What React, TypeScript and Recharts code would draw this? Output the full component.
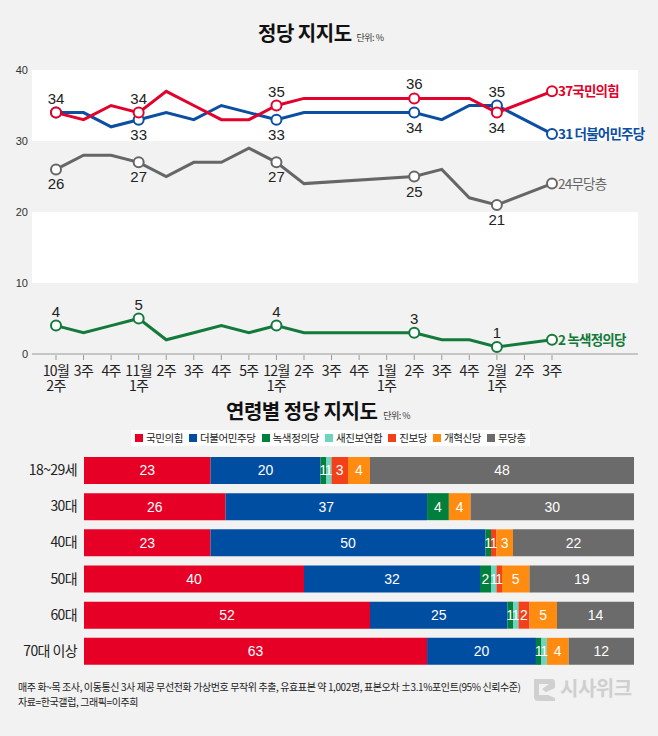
import React from 'react';
import { LineChart, Line, XAxis, YAxis, CartesianGrid, BarChart, Bar, LabelList } from 'recharts';

// 주간 정당 지지도 (한국갤럽)
const weeks = ['10월 2주', '3주', '4주', '11월 1주', '2주', '3주', '4주', '5주', '12월 1주', '2주', '3주', '4주', '1월 1주', '2주', '3주', '4주', '2월 1주', '2주', '3주'];
const ppp = [34, 33, 35, 34, 37, 35, 33, 33, 35, 36, null, null, null, 36, 36, 36, 34, null, 37];
const dpk = [34, 34, 32, 33, 34, 33, 35, 34, 33, 34, null, null, null, 34, 33, 35, 35, null, 31];
const noParty = [26, 28, 28, 27, 25, 27, 27, 29, 27, 24, null, null, null, 25, 26, 22, 21, null, 24];
const greenJustice = [4, 3, 4, 5, 2, 3, 4, 3, 4, 3, null, null, null, 3, 2, 2, 1, null, 2];
const yTicks = [0, 10, 20, 30, 40];

// 연령별
const ages = ['18~29세', '30대', '40대', '50대', '60대', '70대 이상'];
const agePpp = [23, 26, 23, 40, 52, 63];
const ageDpk = [20, 37, 50, 32, 25, 20];
const ageGreen = [1, 4, 1, 2, 1, 1];
const ageNewProg = [1, 0, 0, 1, 1, 1];
const ageProg = [3, 0, 1, 1, 2, 0];
const ageReform = [4, 4, 3, 5, 5, 4];
const ageNone = [48, 30, 22, 19, 14, 12];

const lineData = weeks.map((w, i) => ({
  idx: i,
  week: w,
  ppp: ppp[i],
  dpk: dpk[i],
  none: noParty[i],
  green: greenJustice[i],
}));

const barData = ages.map((a, i) => ({
  age: a,
  ppp: agePpp[i],
  dpk: ageDpk[i],
  green: ageGreen[i],
  newProg: ageNewProg[i],
  prog: ageProg[i],
  reform: ageReform[i],
  none: ageNone[i],
}));

const RED = '#e3002b';
const BLUE = '#0b4ea2';
const GRAY = '#666666';
const GREEN = '#137a3b';

const barSeries = [
  { key: 'ppp', name: '국민의힘', color: '#e60026' },
  { key: 'dpk', name: '더불어민주당', color: '#004ea2' },
  { key: 'green', name: '녹색정의당', color: '#00803c' },
  { key: 'newProg', name: '새진보연합', color: '#6fd3bf' },
  { key: 'prog', name: '진보당', color: '#f2401a' },
  { key: 'reform', name: '개혁신당', color: '#ff8c10' },
  { key: 'none', name: '무당층', color: '#6b6b6b' },
];

const circleIdx = [0, 3, 8, 13, 16, 18];
const LAST = weeks.length - 1;
const NUM_FONT = "'Liberation Sans', Arial, sans-serif";
const KR_FONT = "'Noto Sans CJK KR', sans-serif";

const makeDot = (
  color: string,
  pos: Record<number, 'up' | 'down'>,
  endText: (v: number) => string,
  endBold: boolean
) => (props: any) => {
  const { cx, cy, index, value } = props;
  const key = `dot-${index}`;
  if (cx == null || cy == null || value == null || !circleIdx.includes(index)) return <g key={key} />;
  const p = pos[index];
  return (
    <g key={key}>
      <circle cx={cx} cy={cy} r={5} fill="#fff" stroke={color} strokeWidth={2} />
      {p && index !== LAST && (
        <text
          x={cx}
          y={p === 'up' ? cy - 9 : cy + 20}
          textAnchor="middle"
          fontSize={15}
          fontFamily={NUM_FONT}
          fill="#222"
        >
          {value}
        </text>
      )}
      {index === LAST && (
        <text
          x={cx + 6}
          y={cy + 5}
          fontSize={13.5}
          fontFamily={KR_FONT}
          fontWeight={endBold ? 700 : 400}
          letterSpacing={-0.8}
          fill={color}
        >
          {endText(value)}
        </text>
      )}
    </g>
  );
};

const WeekTick = (props: any) => {
  const { x, y, payload } = props;
  const label = weeks[Number(payload.value)] || '';
  const parts = label.split(' ');
  return (
    <g>
      <line x1={x} x2={x} y1={y - 5} y2={y} stroke="#999" />
      <text x={x} y={y + 16} textAnchor="middle" fontSize={14} fontFamily={KR_FONT} letterSpacing={-0.6} fill="#222">
        {parts[0]}
      </text>
      {parts[1] && (
        <text x={x} y={y + 31} textAnchor="middle" fontSize={14} fontFamily={KR_FONT} letterSpacing={-0.6} fill="#222">
          {parts[1]}
        </text>
      )}
    </g>
  );
};

const ValueTick = (props: any) => {
  const { y, payload } = props;
  return (
    <text x={28} y={y + 4} textAnchor="end" fontSize={11} fontFamily={NUM_FONT} fill="#333">
      {payload.value}
    </text>
  );
};

const AgeTick = (props: any) => {
  const { y, payload } = props;
  return (
    <text x={77} y={y + 5} textAnchor="end" fontSize={14} fontFamily={KR_FONT} letterSpacing={-0.6} fill="#222">
      {payload.value}
    </text>
  );
};

const App = () => {
  return (
    <div
      style={{
        position: 'absolute',
        left: 0,
        top: 0,
        width: 658,
        height: 736,
        background: '#f2f2f2',
        fontFamily: KR_FONT,
        overflow: 'hidden',
      }}
    >
      <div style={{ position: 'absolute', left: 258, top: 21, fontSize: 20, lineHeight: '24px', fontWeight: 700, color: '#111', letterSpacing: -0.5, whiteSpace: 'nowrap' }}>
        정당 지지도
        <span style={{ fontSize: 9, fontWeight: 400, marginLeft: 5, color: '#333' }}>단위: %</span>
      </div>

      <div style={{ position: 'absolute', left: 0, top: 0 }}>
        <LineChart width={658} height={400} data={lineData} margin={{ top: 70, right: 20, left: 0, bottom: 6 }}>
          <CartesianGrid vertical={false} stroke="none" horizontalFill={['#ffffff', '#f2f2f2']} fillOpacity={1} />
          <XAxis
            dataKey="idx"
            type="category"
            padding={{ left: 24, right: 86 }}
            tickLine={false}
            tickMargin={0}
            axisLine={{ stroke: '#999' }}
            tick={<WeekTick />}
            interval={0}
            height={40}
          />
          <YAxis
            type="number"
            domain={[0, 40]}
            ticks={yTicks}
            width={32}
            axisLine={false}
            tickLine={false}
            tick={<ValueTick />}
          />
          <Line
            dataKey="none"
            stroke={GRAY}
            strokeWidth={3}
            connectNulls
            isAnimationActive={false}
            activeDot={false}
            dot={makeDot(GRAY, { 0: 'down', 3: 'down', 8: 'down', 13: 'down', 16: 'down' }, (v) => `${v}무당층`, false)}
          />
          <Line
            dataKey="green"
            stroke={GREEN}
            strokeWidth={3}
            connectNulls
            isAnimationActive={false}
            activeDot={false}
            dot={makeDot(GREEN, { 0: 'up', 3: 'up', 8: 'up', 13: 'up', 16: 'up' }, (v) => `${v} 녹색정의당`, true)}
          />
          <Line
            dataKey="dpk"
            stroke={BLUE}
            strokeWidth={3}
            connectNulls
            isAnimationActive={false}
            activeDot={false}
            dot={makeDot(BLUE, { 3: 'down', 8: 'down', 13: 'down', 16: 'up' }, (v) => `${v} 더불어민주당`, true)}
          />
          <Line
            dataKey="ppp"
            stroke={RED}
            strokeWidth={3}
            connectNulls
            isAnimationActive={false}
            activeDot={false}
            dot={makeDot(RED, { 0: 'up', 3: 'up', 8: 'up', 13: 'up', 16: 'down' }, (v) => `${v}국민의힘`, true)}
          />
        </LineChart>
      </div>

      <div style={{ position: 'absolute', left: 226, top: 399, fontSize: 20, lineHeight: '24px', fontWeight: 700, color: '#111', letterSpacing: -0.5, whiteSpace: 'nowrap' }}>
        연령별 정당 지지도
        <span style={{ fontSize: 9, fontWeight: 400, marginLeft: 6, color: '#333' }}>단위: %</span>
      </div>

      <div
        style={{
          position: 'absolute',
          left: 131,
          top: 430,
          height: 16,
          padding: '0 4px',
          background: '#fff',
          display: 'flex',
          alignItems: 'center',
          gap: 6,
          fontSize: 10.5,
          letterSpacing: -0.4,
          color: '#222',
          whiteSpace: 'nowrap',
        }}
      >
        {barSeries.map((s) => (
          <div key={s.key} style={{ display: 'flex', alignItems: 'center', gap: 3 }}>
            <span style={{ width: 8, height: 8, background: s.color, display: 'inline-block' }} />
            <span style={{ lineHeight: '16px' }}>{s.name}</span>
          </div>
        ))}
      </div>

      <div style={{ position: 'absolute', left: 0, top: 445 }}>
        <BarChart
          width={658}
          height={230}
          data={barData}
          layout="vertical"
          stackOffset="expand"
          margin={{ top: 7, right: 24, left: 0, bottom: 6 }}
          barSize={27}
        >
          <XAxis type="number" hide domain={[0, 1]} />
          <YAxis type="category" dataKey="age" width={84} axisLine={false} tickLine={false} tick={<AgeTick />} />
          {barSeries.map((s) => (
            <Bar key={s.key} dataKey={s.key} stackId="a" fill={s.color} isAnimationActive={false}>
              <LabelList
                dataKey={s.key}
                position="center"
                fill="#fff"
                fontSize={14}
                fontFamily={NUM_FONT}
                formatter={(v: any) => (v ? v : '')}
              />
            </Bar>
          ))}
        </BarChart>
      </div>

      <div style={{ position: 'absolute', left: 18, top: 679, fontSize: 10, lineHeight: '15px', letterSpacing: -0.4, color: '#222', whiteSpace: 'nowrap' }}>
        <div>매주 화~목 조사, 이동통신 3사 제공 무선전화 가상번호 무작위 추출, 유효표본 약 1,002명, 표본오차 ±3.1%포인트(95% 신뢰수준)</div>
        <div>자료=한국갤럽, 그래픽=이주희</div>
      </div>

      <svg style={{ position: 'absolute', left: 530, top: 675 }} width={28} height={30}>
        <path d="M4 4 H22 Q25 4 25 7 V13 L14 18 L25 23 V26 H8 Q4 26 4 22 Z" fill="#d0d0d0" />
        <path d="M9 9 H19 L12 14 L19 20 H9 Z" fill="#f2f2f2" />
      </svg>
      <div style={{ position: 'absolute', left: 560, top: 676, fontSize: 20, lineHeight: '24px', fontWeight: 700, color: '#cfcfcf', letterSpacing: -0.5, whiteSpace: 'nowrap' }}>
        시사위크
      </div>
    </div>
  );
};

export default App;
